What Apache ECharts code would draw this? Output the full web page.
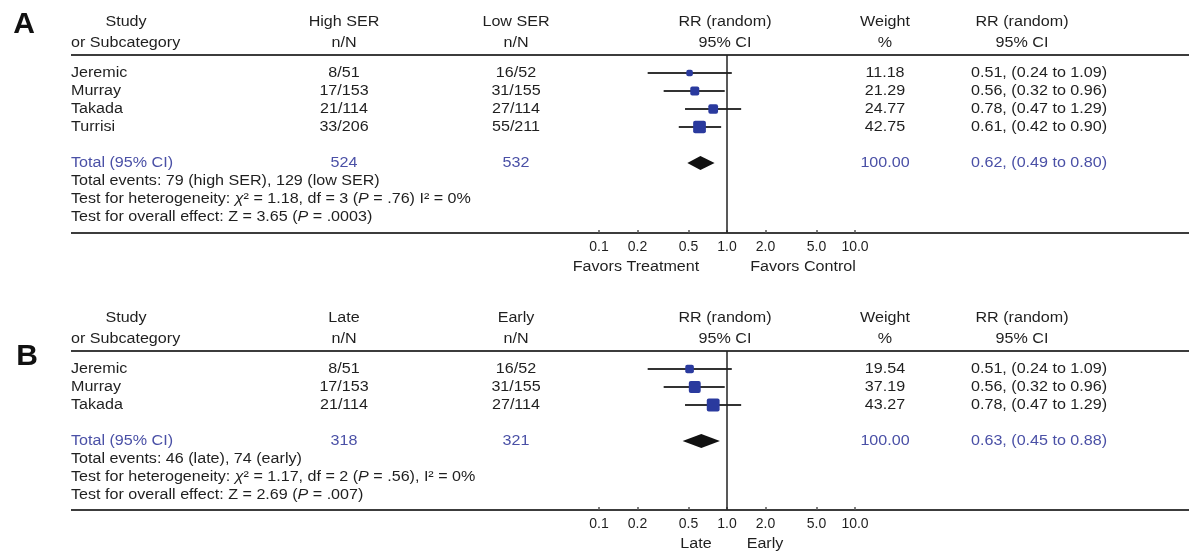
<!DOCTYPE html>
<html>
<head>
<meta charset="utf-8">
<script src="https://cdn.jsdelivr.net/npm/echarts@6/dist/echarts.min.js"></script>
<style>
  html, body { margin: 0; padding: 0; background: #ffffff; }
  #chart { width: 1189px; height: 553px; }
</style>
</head>
<body>
<div id="chart"></div>
<script>
// ---- Panel A: high vs low SER ----
const studiesA = ['Jeremic', 'Murray', 'Takada', 'Turrisi'];
const eventsHighA = [8, 17, 21, 33];
const totalsHighA = [51, 153, 114, 206];
const eventsLowA = [16, 31, 27, 55];
const totalsLowA = [52, 155, 114, 211];
const weightA = [11.18, 21.29, 24.77, 42.75];
const rrA = [0.51, 0.56, 0.78, 0.61];
const loA = [0.24, 0.32, 0.47, 0.42];
const hiA = [1.09, 0.96, 1.29, 0.90];
const pooledA = [0.62, 0.49, 0.80];
const sumNA = [524, 532];
const totalWeightA = 100.00;
const headersA = ['High SER', 'Low SER'];
const footA = [
  'Total events: 79 (high SER), 129 (low SER)',
  'Test for heterogeneity: {i|χ}² = 1.18, df = 3 ({i|P} = .76) I² = 0%',
  'Test for overall effect: Z = 3.65 ({i|P} = .0003)'
];
const favorsA = ['Favors Treatment', 'Favors Control'];

// ---- Panel B: late vs early ----
const studiesB = ['Jeremic', 'Murray', 'Takada'];
const eventsHighB = [8, 17, 21];
const totalsHighB = [51, 153, 114];
const eventsLowB = [16, 31, 27];
const totalsLowB = [52, 155, 114];
const weightB = [19.54, 37.19, 43.27];
const rrB = [0.51, 0.56, 0.78];
const loB = [0.24, 0.32, 0.47];
const hiB = [1.09, 0.96, 1.29];
const pooledB = [0.63, 0.45, 0.88];
const sumNB = [318, 321];
const totalWeightB = 100.00;
const headersB = ['Late', 'Early'];
const footB = [
  'Total events: 46 (late), 74 (early)',
  'Test for heterogeneity: {i|χ}² = 1.17, df = 2 ({i|P} = .56), I² = 0%',
  'Test for overall effect: Z = 2.69 ({i|P} = .007)'
];
const favorsB = ['Late', 'Early'];

// shared axis ticks of the ratio scale
const rrTicks = [0.1, 0.2, 0.5, 1, 2, 5, 10];

// ---- styling / layout ----
const FONT = '"Liberation Sans", Arial, Helvetica, sans-serif';
const INK = '#1f1f1f';
const BLUE = '#4a50a6';
const MARK = '#2a3a9e';
const RULE = '#3c3c3c';
const FS = 14;
const SX = 1.15;          // text is set slightly wide
const ROW = 18;           // row pitch in px
const COL = { study: 71, studyHead: 126, g1: 344, g2: 516, plot: 725, weight: 885, ciHead: 1022, ci: 971 };
const PLOT_LEFT = 599, PLOT_WIDTH = 256, RULE_RIGHT = 1189;

const panels = [
  { letter: 'A', letterPos: [24, 25], top: 55, bottom: 233,
    studies: studiesA, eh: eventsHighA, th: totalsHighA, el: eventsLowA, tl: totalsLowA,
    w: weightA, rr: rrA, lo: loA, hi: hiA, pooled: pooledA, sums: sumNA, wTotal: totalWeightA,
    heads: headersA, foot: footA, favors: favorsA, favorsX: [636, 803] },
  { letter: 'B', letterPos: [27, 357], top: 351, bottom: 510,
    studies: studiesB, eh: eventsHighB, th: totalsHighB, el: eventsLowB, tl: totalsLowB,
    w: weightB, rr: rrB, lo: loB, hi: hiB, pooled: pooledB, sums: sumNB, wTotal: totalWeightB,
    heads: headersB, foot: footB, favors: favorsB, favorsX: [696, 765] }
];

const chart = echarts.init(document.getElementById('chart'), null, { renderer: 'canvas' });

const grids = [], xAxes = [], yAxes = [], series = [];
panels.forEach((p, i) => {
  const n = p.studies.length;
  p.totalRow = n + 1;
  grids.push({ left: PLOT_LEFT, width: PLOT_WIDTH, top: p.top, height: p.bottom - p.top });
  xAxes.push({
    type: 'log', logBase: 10, min: 0.1, max: 10, gridIndex: i, position: 'bottom',
    axisLine: { show: false, onZero: false },
    splitLine: { show: false },
    axisTick: { show: true, customValues: rrTicks, length: 3, inside: true, lineStyle: { color: '#555', width: 1.5 } },
    axisLabel: { customValues: rrTicks, formatter: v => Number(v).toFixed(1),
      color: INK, fontSize: 14, fontFamily: FONT, margin: 7 }
  });
  yAxes.push({ type: 'value', gridIndex: i, inverse: true, show: false,
    min: -1, max: -1 + (p.bottom - p.top) / ROW });

  // individual studies: CI whisker + weighted square
  series.push({
    type: 'custom', xAxisIndex: i, yAxisIndex: i, silent: true,
    data: p.studies.map((s, k) => [p.rr[k], p.lo[k], p.hi[k], k, p.w[k]]),
    renderItem: (params, api) => {
      const y = api.value(3);
      const c = api.coord([api.value(0), y]);
      const a = api.coord([api.value(1), y]);
      const b = api.coord([api.value(2), y]);
      const s = 1.95 * Math.sqrt(api.value(4));
      return { type: 'group', children: [
        { type: 'line', shape: { x1: a[0], y1: a[1], x2: b[0], y2: b[1] }, style: { stroke: '#333', lineWidth: 1.8 } },
        { type: 'rect', shape: { x: c[0] - s / 2, y: c[1] - s / 2, width: s, height: s, r: 2 }, style: { fill: MARK } }
      ] };
    },
    markLine: { silent: true, symbol: 'none', label: { show: false },
      lineStyle: { color: '#222', width: 1.5, type: 'solid' }, data: [{ xAxis: 1 }] }
  });

  // pooled estimate diamond
  series.push({
    type: 'custom', xAxisIndex: i, yAxisIndex: i, silent: true,
    data: [[p.pooled[0], p.pooled[1], p.pooled[2], p.totalRow]],
    renderItem: (params, api) => {
      const y = api.value(3);
      const c = api.coord([api.value(0), y]);
      const a = api.coord([api.value(1), y]);
      const b = api.coord([api.value(2), y]);
      const h = 7;
      return { type: 'polygon', shape: { points: [[a[0], a[1]], [c[0], c[1] - h], [b[0], b[1]], [c[0], c[1] + h]] },
        style: { fill: '#111' } };
    }
  });
});

chart.setOption({
  animation: false,
  backgroundColor: '#ffffff',
  grid: grids, xAxis: xAxes, yAxis: yAxes, series: series
});

// ---- table text, aligned to the plot rows ----
const RICH = { i: { fontStyle: 'italic', fontSize: FS, fontFamily: FONT } };
function txt(x, y, text, align, color) {
  return {
    type: 'text', x: x, y: y, scaleX: SX, silent: true,
    style: { text: text, x: 0, y: 0, textAlign: align, align: align,
      textVerticalAlign: 'middle', verticalAlign: 'middle',
      fill: color || INK, fontSize: FS, fontFamily: FONT, rich: RICH }
  };
}
function rule(y) {
  return { type: 'line', silent: true, shape: { x1: COL.study, y1: y, x2: RULE_RIGHT, y2: y },
    style: { stroke: RULE, lineWidth: 2 } };
}
const fmt = v => v.toFixed(2);

const graphics = [];
panels.forEach((p, i) => {
  const rowY = r => chart.convertToPixel({ gridIndex: i }, [1, r])[1];
  const hY1 = p.top - 33, hY2 = p.top - 12;

  graphics.push({ type: 'text', x: p.letterPos[0], y: p.letterPos[1], silent: true,
    style: { text: p.letter, textAlign: 'center', align: 'center', textVerticalAlign: 'middle', verticalAlign: 'middle',
      fill: '#111', fontSize: 30, fontWeight: 'bold', fontFamily: FONT } });

  // column headers
  graphics.push(txt(COL.studyHead, hY1, 'Study', 'center'));
  graphics.push(txt(COL.study, hY2, 'or Subcategory', 'left'));
  graphics.push(txt(COL.g1, hY1, p.heads[0], 'center'));
  graphics.push(txt(COL.g1, hY2, 'n/N', 'center'));
  graphics.push(txt(COL.g2, hY1, p.heads[1], 'center'));
  graphics.push(txt(COL.g2, hY2, 'n/N', 'center'));
  graphics.push(txt(COL.plot, hY1, 'RR (random)', 'center'));
  graphics.push(txt(COL.plot, hY2, '95% CI', 'center'));
  graphics.push(txt(COL.weight, hY1, 'Weight', 'center'));
  graphics.push(txt(COL.weight, hY2, '%', 'center'));
  graphics.push(txt(COL.ciHead, hY1, 'RR (random)', 'center'));
  graphics.push(txt(COL.ciHead, hY2, '95% CI', 'center'));

  graphics.push(rule(p.top));
  graphics.push(rule(p.bottom));

  // study rows
  p.studies.forEach((s, k) => {
    const y = rowY(k);
    graphics.push(txt(COL.study, y, s, 'left'));
    graphics.push(txt(COL.g1, y, p.eh[k] + '/' + p.th[k], 'center'));
    graphics.push(txt(COL.g2, y, p.el[k] + '/' + p.tl[k], 'center'));
    graphics.push(txt(COL.weight, y, fmt(p.w[k]), 'center'));
    graphics.push(txt(COL.ci, y, fmt(p.rr[k]) + ', (' + fmt(p.lo[k]) + ' to ' + fmt(p.hi[k]) + ')', 'left'));
  });

  // pooled row
  const ty = rowY(p.totalRow);
  graphics.push(txt(COL.study, ty, 'Total (95% CI)', 'left', BLUE));
  graphics.push(txt(COL.g1, ty, String(p.sums[0]), 'center', BLUE));
  graphics.push(txt(COL.g2, ty, String(p.sums[1]), 'center', BLUE));
  graphics.push(txt(COL.weight, ty, p.wTotal.toFixed(2), 'center', BLUE));
  graphics.push(txt(COL.ci, ty, fmt(p.pooled[0]) + ', (' + fmt(p.pooled[1]) + ' to ' + fmt(p.pooled[2]) + ')', 'left', BLUE));

  // summary statistics
  p.foot.forEach((line, k) => {
    graphics.push(txt(COL.study, rowY(p.totalRow + 1 + k), line, 'left'));
  });

  // direction labels under the axis
  graphics.push(txt(p.favorsX[0], p.bottom + 34, p.favors[0], 'center'));
  graphics.push(txt(p.favorsX[1], p.bottom + 34, p.favors[1], 'center'));
});

chart.setOption({ graphic: { elements: graphics } });
</script>
</body>
</html>
